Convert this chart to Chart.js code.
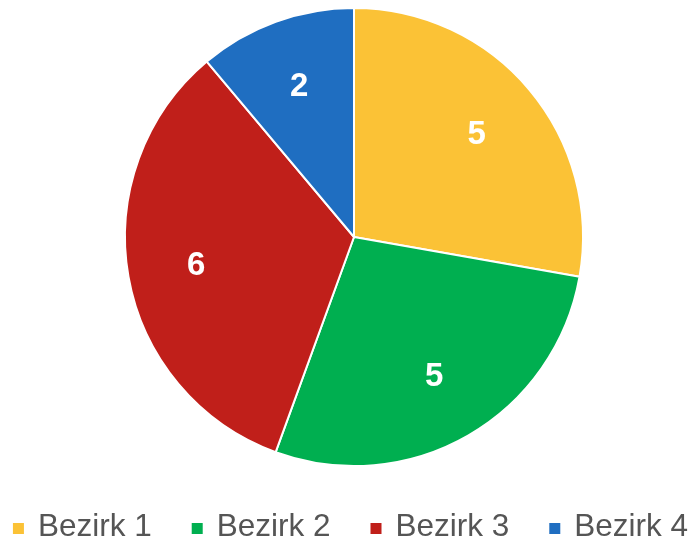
<!DOCTYPE html>
<html>
<head>
<meta charset="utf-8">
<script src="https://cdn.jsdelivr.net/npm/chart.js@4"></script>
<style>
    html, body { margin: 0; padding: 0; background: #ffffff; }
    #wrap { width: 693px; height: 541px; }
</style>
</head>
<body>
<div id="wrap"><canvas id="pieChart"></canvas></div>
<script>

// ---------------------------
// Data
// ---------------------------

const districts = ["Bezirk 1", "Bezirk 2", "Bezirk 3", "Bezirk 4"];
const counts = [5, 5, 6, 2];
const sliceColors = ["#FBC236", "#00AF50", "#C01F1A", "#1F6EC1"];

const FONT = "'Liberation Sans', Arial, Helvetica, sans-serif";


// value labels inside the slices
const sliceLabels = {
    id: "sliceLabels",
    afterDatasetsDraw(chart) {
        const ctx = chart.ctx;
        const meta = chart.getDatasetMeta(0);
        ctx.save();
        ctx.fillStyle = "#ffffff";
        ctx.font = "bold 33px " + FONT;
        ctx.textAlign = "center";
        ctx.textBaseline = "middle";
        meta.data.forEach(function(arc, i) {
            const p = arc.getProps(["x", "y", "startAngle", "endAngle", "outerRadius"], true);
            const mid = (p.startAngle + p.endAngle) / 2;
            const d = p.outerRadius * 0.7;
            ctx.fillText(String(counts[i]), p.x + Math.cos(mid) * d, p.y + Math.sin(mid) * d + 1);
        });
        ctx.restore();
    }
};


// legend row along the bottom
const bottomLegend = {
    id: "bottomLegend",
    afterDraw(chart) {
        const ctx = chart.ctx;
        const box = 11;
        const gap = 14;
        const spacing = 40;
        ctx.save();
        ctx.font = "31.5px " + FONT;
        ctx.textBaseline = "middle";
        ctx.textAlign = "left";

        let total = 0;
        districts.forEach(function(name, i) {
            total += box + gap + ctx.measureText(name).width;
            if (i > 0) total += spacing;
        });

        let x = (chart.width - total) / 2 + 4;
        const y = 527;
        districts.forEach(function(name, i) {
            ctx.fillStyle = sliceColors[i];
            ctx.fillRect(x, y - 4, box, box);
            x += box + gap;
            ctx.fillStyle = "#555555";
            ctx.fillText(name, x, y);
            x += ctx.measureText(name).width + spacing;
        });
        ctx.restore();
    }
};


// ---------------------------
// Pie
// ---------------------------

new Chart(document.getElementById("pieChart"), {

    type: "pie",

    data: {

        labels: districts,

        datasets: [{

            data: counts,

            backgroundColor: sliceColors,

            borderColor: "#ffffff",
            borderWidth: 2

        }]

    },

    options: {

        responsive: true,
        maintainAspectRatio: false,
        animation: false,

        layout: {

            padding: { top: 7, left: 15, right: 0, bottom: 74 }

        },

        plugins: {

            legend: { display: false },
            tooltip: { enabled: false }

        }

    },

    plugins: [sliceLabels, bottomLegend]

});

</script>
</body>
</html>
